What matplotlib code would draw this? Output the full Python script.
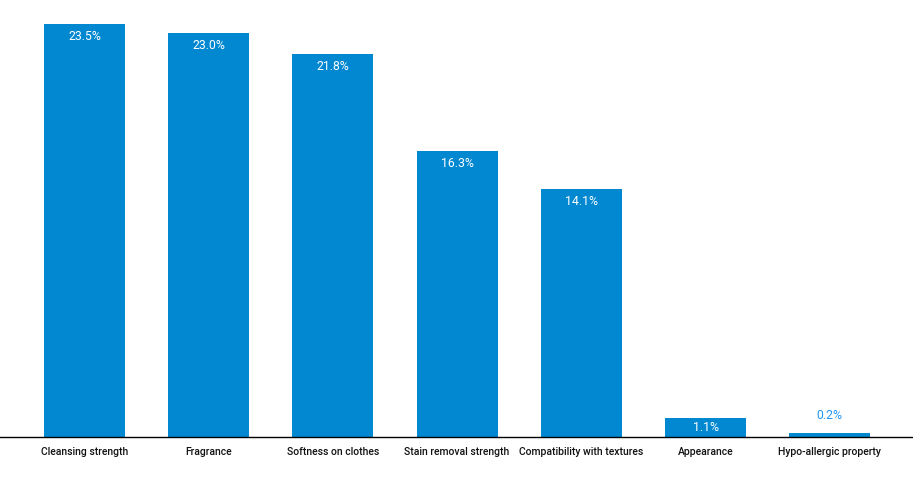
import matplotlib
matplotlib.use("Agg")
from matplotlib import pyplot as plt

categories = ["Cleansing strength", "Fragrance", "Softness on clothes",
              "Stain removal strength", "Compatibility with textures",
              "Appearance", "Hypo-allergic property"]
shares = [23.5, 23.0, 21.8, 16.3, 14.1, 1.1, 0.2]

plt.rcParams['font.family'] = ['Roboto', 'DejaVu Sans']

fig = plt.figure(figsize=(9.13, 4.82), dpi=100)
ax = fig.add_axes([0, 0.0934, 1, 0.9066])

x = list(range(len(categories)))
ax.bar(x, shares, width=0.652, color="#0288D1", zorder=2)

ytop = 24.87
per_px = ytop / 437.0
for xi, val in zip(x, shares):
    if val > 1.0:
        # label sits inside the bar, ~12px below its top
        ypos = val - min(12.5 * per_px, val / 2)
        ax.text(xi, ypos, "%.1f%%" % val, ha="center", va="center",
                color="white", fontsize=8.8)
    else:
        ax.annotate("%.1f%%" % val, xy=(xi, val), xytext=(0, 13),
                    textcoords="offset points", ha="center", va="center",
                    color="#2196F3", fontsize=8.8)

ax.set_xlim(-0.68, 6.67)
ax.set_ylim(0, ytop)
ax.set_xticks(x)
ax.set_xticklabels(categories, fontsize=7.5, color="#111111", fontweight=500)
ax.tick_params(axis="x", length=0, pad=7.5)
ax.set_yticks([])
for side in ["top", "right", "left"]:
    ax.spines[side].set_visible(False)
ax.spines["bottom"].set_color("black")
ax.spines["bottom"].set_linewidth(1.0)
ax.spines["bottom"].set_zorder(3)

plt.savefig("out.png", dpi=100)
